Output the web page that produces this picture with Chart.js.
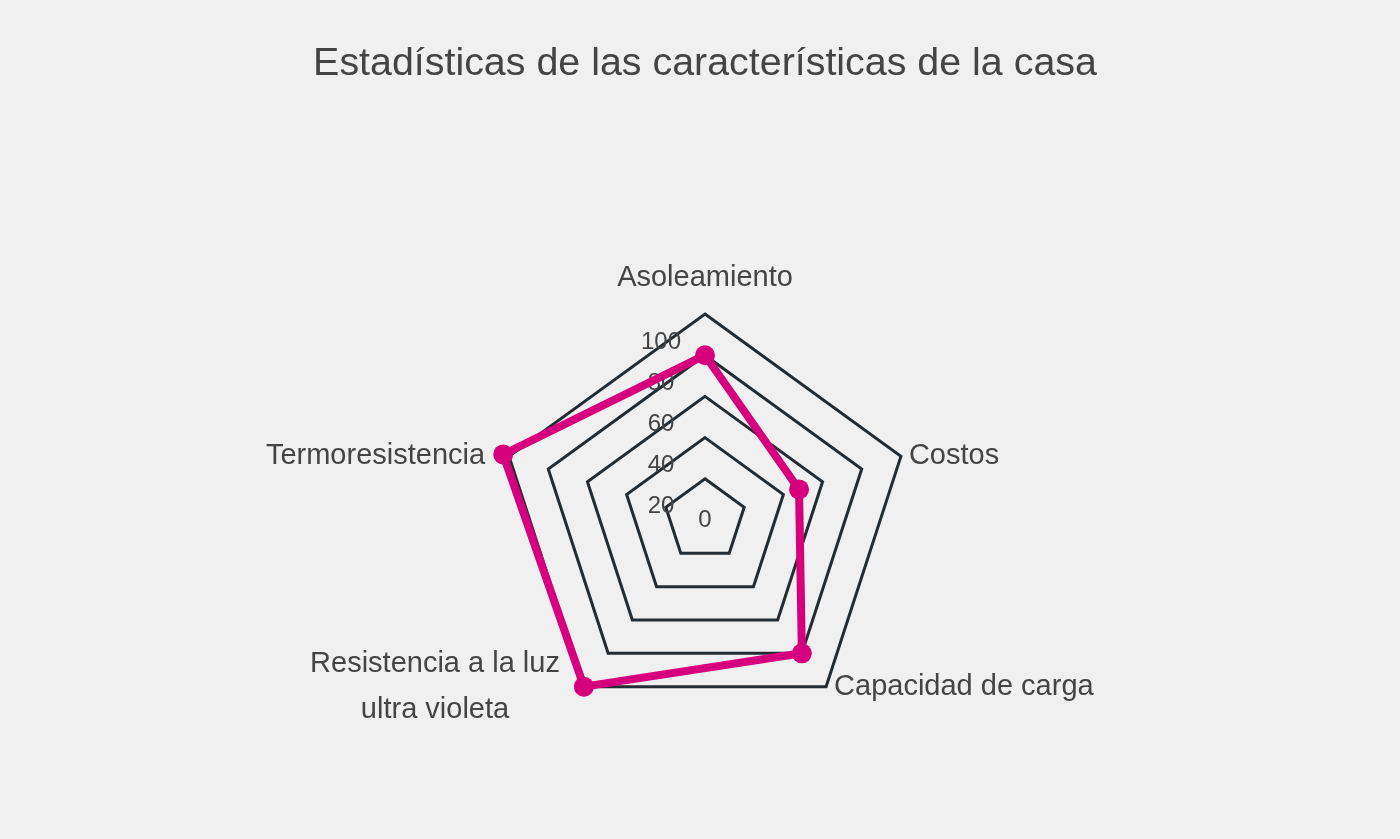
<!DOCTYPE html>
<html>
<head>
<meta charset="utf-8">
<script src="https://cdn.jsdelivr.net/npm/chart.js@4.4.1/dist/chart.umd.min.js"></script>
<style>
  html, body { margin: 0; padding: 0; background: #f0f0f0; }
  #wrap { width: 1400px; height: 839px; }
</style>
</head>
<body>
<div id="wrap"><canvas id="chart"></canvas></div>
<script>
// Radar data
const categories = [
    'Asoleamiento',
    'Costos',
    'Capacidad de carga',
    ['Resistencia a la luz', 'ultra violeta'],
    'Termoresistencia'
];
const values = [80, 48, 80, 100, 103];
const tickValues = [0, 20, 40, 60, 80, 100];

const FONT = "'Liberation Sans Narrow', 'Arial Narrow', 'Liberation Sans', sans-serif";
const TEXT = '#444444';
const MAGENTA = '#d6007f';

// Tick labels sit left of the vertical axis, a bit below each ring
const tickLabels = {
    id: 'tickLabels',
    beforeDatasetsDraw(chart) {
        const scale = chart.scales.r;
        const ctx = chart.ctx;
        ctx.save();
        ctx.font = `24px ${FONT}`;
        ctx.fillStyle = TEXT;
        ctx.textAlign = 'center';
        ctx.textBaseline = 'middle';
        tickValues.forEach(v => {
            const d = scale.getDistanceFromCenterForValue(v);
            if (v === 0) {
                ctx.fillText(String(v), scale.xCenter, scale.yCenter);
            } else {
                ctx.fillText(String(v), scale.xCenter - 44, scale.yCenter - d + 28);
            }
        });
        ctx.restore();
    }
};

// Category labels: vertically centred on each outer vertex, pushed sideways
const axisLabels = {
    id: 'axisLabels',
    beforeDatasetsDraw(chart) {
        const scale = chart.scales.r;
        const ctx = chart.ctx;
        const lineH = 46;
        ctx.save();
        ctx.font = `29px ${FONT}`;
        ctx.fillStyle = TEXT;
        ctx.textBaseline = 'middle';
        categories.forEach((label, i) => {
            const p = scale.getPointPosition(i, scale.drawingArea);
            const lines = Array.isArray(label) ? label : [label];
            const dx = p.x - scale.xCenter;
            let y0 = p.y - (lines.length - 1) * lineH / 2;
            if (Math.abs(dx) < 1) {
                ctx.textAlign = 'center';
                lines.forEach((l, k) => ctx.fillText(l, p.x, p.y - 36 + k * lineH));
                return;
            }
            // block width so multi-line labels are centred within their block
            const w = Math.max(...lines.map(l => ctx.measureText(l).width));
            ctx.textAlign = 'center';
            const cx = dx > 0 ? p.x + 8 + w / 2 : p.x - 24 - w / 2;
            lines.forEach((l, k) => ctx.fillText(l, cx, y0 + k * lineH));
        });
        ctx.restore();
    }
};

new Chart(document.getElementById('chart'), {
    type: 'radar',
    data: {
        labels: categories,
        datasets: [{
            label: 'Casa',
            data: values,
            borderColor: MAGENTA,
            backgroundColor: MAGENTA,
            borderWidth: 8,
            pointRadius: 10,
            pointBorderWidth: 0,
            pointBackgroundColor: MAGENTA,
            fill: false
        }]
    },
    options: {
        responsive: true,
        maintainAspectRatio: false,
        animation: false,
        events: [],
        layout: { padding: { top: 0, bottom: 112, left: 10, right: 0 } },
        plugins: {
            legend: { display: false },
            tooltip: { enabled: false },
            title: {
                display: true,
                text: 'Estadísticas de las características de la casa',
                color: TEXT,
                font: { family: FONT, size: 39.4, weight: 'normal' },
                padding: { top: 41, bottom: 226 }
            }
        },
        scales: {
            r: {
                min: 0,
                max: 100,
                ticks: { stepSize: 20, display: false },
                grid: { color: '#222c32', lineWidth: 3 },
                angleLines: { display: false },
                pointLabels: { display: false }
            }
        }
    },
    plugins: [tickLabels, axisLabels]
});
</script>
</body>
</html>
